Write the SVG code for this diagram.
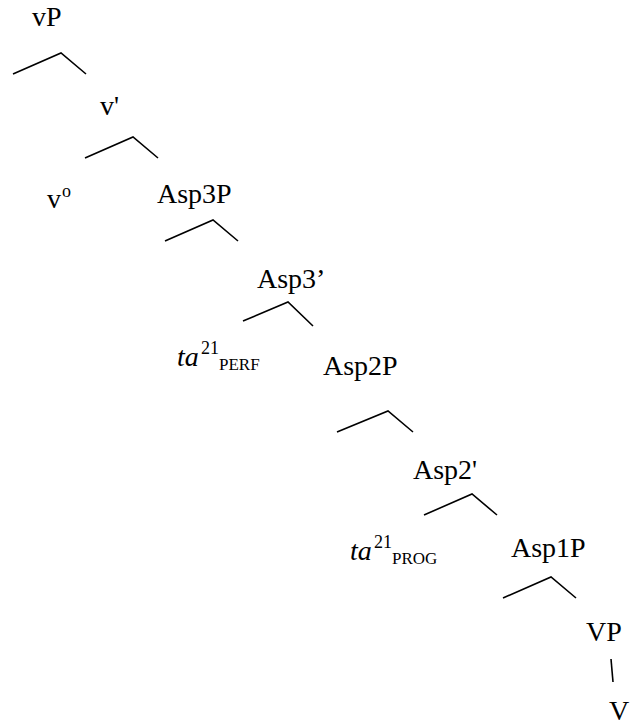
<svg xmlns="http://www.w3.org/2000/svg" width="632" height="727" viewBox="0 0 632 727">
  <style>
    text { font-family: 'Liberation Serif', serif; font-size: 28px; fill: #000; }
    .it { font-style: italic; }
    .sup { font-size: 18px; }
    .sub { font-size: 17px; }
    .edge { fill: none; stroke: #000; stroke-width: 1.6; stroke-linecap: butt; stroke-linejoin: miter; }
  </style>
  <rect width="632" height="727" fill="#fff"/>

  <!-- tree branches -->
  <g id="connectors">
    <polyline class="edge" points="13,74 61,53 86,74"/>
    <polyline class="edge" points="85,158 133,137 158,158"/>
    <polyline class="edge" points="165,241 213,220 238,241"/>
    <polyline class="edge" points="243,321 288,302 313,326"/>
    <polyline class="edge" points="337,432 388,411 413,432"/>
    <polyline class="edge" points="424,515 472,494 497,515"/>
    <polyline class="edge" points="503,598 551,577 576,598"/>
    <line class="edge" x1="611" y1="659" x2="613" y2="682"/>
  </g>

  <!-- nodes -->
  <g font-family="Liberation Serif, serif">
    <g id="vP"><text x="32" y="26">vP</text></g>
    <g id="v-bar"><text x="100" y="115">v'</text></g>
    <g id="v-head"><text x="47" y="208">v</text><text class="sup" x="62" y="197">o</text></g>
    <g id="Asp3P"><text x="157" y="203">Asp3P</text></g>
    <g id="Asp3-bar"><text x="257" y="288">Asp3’</text></g>
    <g id="ta-perf">
      <text class="it" x="177" y="366">ta</text>
      <text class="sup" x="201" y="354">21</text>
      <text class="sub" x="219" y="370">PERF</text>
    </g>
    <g id="Asp2P"><text x="323" y="375">Asp2P</text></g>
    <g id="Asp2-bar"><text x="413" y="479">Asp2'</text></g>
    <g id="ta-prog">
      <text class="it" x="350" y="560">ta</text>
      <text class="sup" x="374" y="548">21</text>
      <text class="sub" x="392" y="564">PROG</text>
    </g>
    <g id="Asp1P"><text x="511" y="557">Asp1P</text></g>
    <g id="VP"><text x="586" y="641">VP</text></g>
    <g id="V"><text x="609" y="720">V</text></g>
  </g>
</svg>
